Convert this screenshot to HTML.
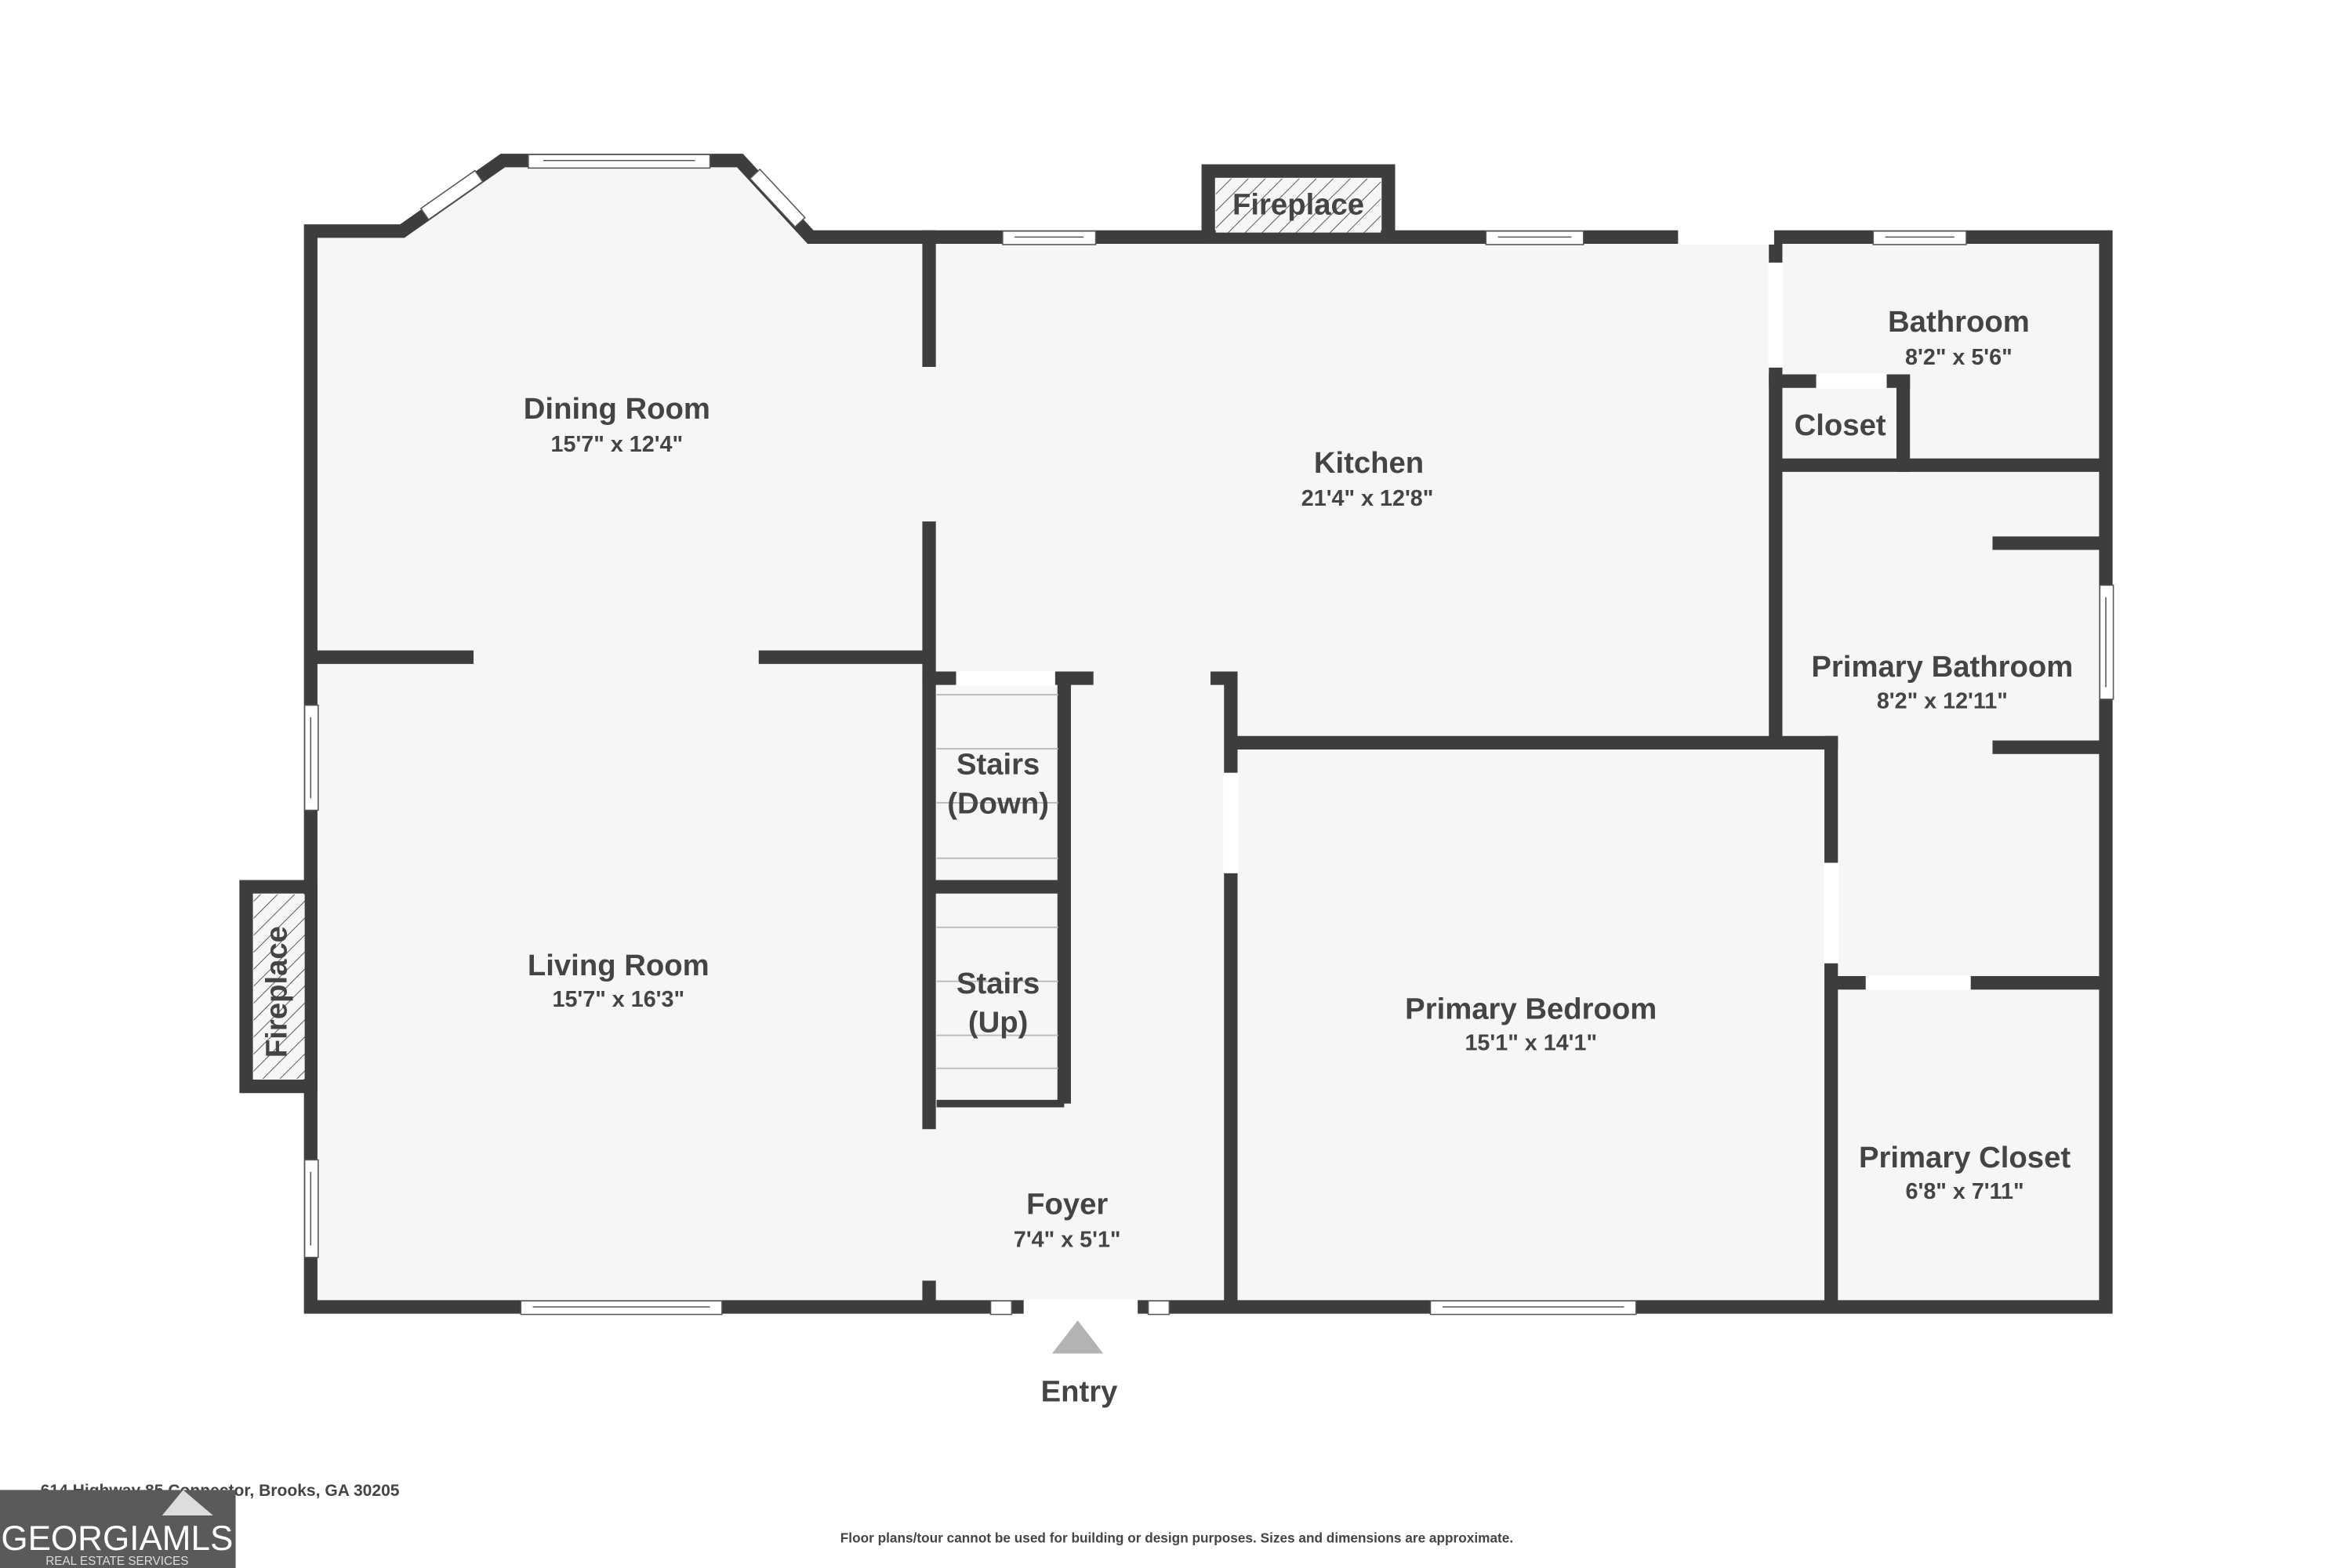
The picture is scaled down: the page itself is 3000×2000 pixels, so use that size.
<!DOCTYPE html>
<html><head><meta charset="utf-8"><style>
html,body{margin:0;padding:0;background:#fff;width:3000px;height:2000px;overflow:hidden}
svg{display:block}
text{font-family:"Liberation Sans",sans-serif;font-weight:bold;fill:#444;text-anchor:middle}
</style></head><body>
<svg width="3000" height="2000" viewBox="0 0 1567 1045" preserveAspectRatio="none" xmlns="http://www.w3.org/2000/svg">
<defs>
<pattern id="h" width="8" height="8" patternUnits="userSpaceOnUse" patternTransform="rotate(45)">
<rect width="8" height="8" fill="#f6f6f6"/><line x1="0" y1="0" x2="0" y2="8" stroke="#555" stroke-width="1"/>
</pattern>
</defs>
<polygon points="207,154 268,154 335,107 493,107 540,158 1403,158 1403,871 207,871" fill="#f6f6f6"/>
<g stroke="#3d3d3d" stroke-width="9" fill="none" stroke-linecap="square">
<polyline points="207,871 207,154 268,154 335,107 493,107 540,158 1403,158 1403,871 207,871"/>
<line x1="619" y1="158" x2="619" y2="240"/>
<line x1="619" y1="352" x2="619" y2="748"/>
<line x1="619" y1="858" x2="619" y2="866"/>
<line x1="211" y1="438" x2="311" y2="438"/>
<line x1="510" y1="438" x2="615" y2="438"/>
<line x1="619" y1="452" x2="724" y2="452"/>
<line x1="709" y1="452" x2="709" y2="731"/>
<line x1="623" y1="591" x2="705" y2="591"/>
<line x1="811" y1="452" x2="820" y2="452"/>
<line x1="820" y1="452" x2="820" y2="866"/>
<line x1="824" y1="495" x2="1220" y2="495"/>
<line x1="1220" y1="495" x2="1220" y2="866"/>
<line x1="1183" y1="162" x2="1183" y2="495"/>
<line x1="1183" y1="254" x2="1268" y2="254"/>
<line x1="1268" y1="254" x2="1268" y2="310"/>
<line x1="1187" y1="310" x2="1399" y2="310"/>
<line x1="1332" y1="362" x2="1399" y2="362"/>
<line x1="1332" y1="498" x2="1399" y2="498"/>
<line x1="1224" y1="655" x2="1399" y2="655"/>
<rect x="805" y="114" width="120" height="44"/>
<rect x="164" y="591" width="43" height="133"/>
</g>
<rect x="810" y="119" width="110" height="36" fill="url(#h)"/>
<rect x="169" y="596" width="34" height="123" fill="url(#h)"/>
<g fill="#fff" stroke="#555" stroke-width="0.8">
<rect x="352" y="103" width="121" height="9"/><line x1="362" y1="107" x2="463" y2="107"/>
<rect x="668" y="154" width="62" height="9"/><line x1="676" y1="158" x2="722" y2="158"/>
<rect x="990" y="154" width="65" height="9"/><line x1="998" y1="158" x2="1047" y2="158"/>
<rect x="1248" y="154" width="62" height="9"/><line x1="1256" y1="158" x2="1302" y2="158"/>
<rect x="1399" y="390" width="9" height="76"/><line x1="1403" y1="398" x2="1403" y2="458"/>
<rect x="203" y="470" width="9" height="70"/><line x1="207" y1="478" x2="207" y2="532"/>
<rect x="203" y="773" width="9" height="65"/><line x1="207" y1="781" x2="207" y2="830"/>
<rect x="347" y="867" width="134" height="9"/><line x1="355" y1="871" x2="473" y2="871"/>
<rect x="953" y="867" width="137" height="9"/><line x1="961" y1="871" x2="1082" y2="871"/>
<rect x="660" y="867" width="14" height="9"/><rect x="765" y="867" width="14" height="9"/>
</g>
<g fill="#fff">
<rect x="682" y="866" width="76" height="10"/>
<rect x="1118" y="153" width="64" height="10"/>
<rect x="1178" y="175" width="10" height="70"/>
<rect x="1210" y="249" width="47" height="10"/>
<rect x="637" y="447" width="66" height="10"/>
<rect x="815" y="515" width="10" height="67"/>
<rect x="1215" y="575" width="10" height="67"/>
<rect x="1243" y="650" width="70" height="10"/>
</g>
<g transform="translate(301,130) rotate(-35)"><rect x="-22" y="-4.5" width="44" height="9" fill="#fff" stroke="#555" stroke-width="0.8"/></g>
<g transform="translate(518,132) rotate(47)"><rect x="-22" y="-4.5" width="44" height="9" fill="#fff" stroke="#555" stroke-width="0.8"/></g>
<g stroke="#bbb" stroke-width="1">
<line x1="624" y1="463" x2="705" y2="463"/><line x1="624" y1="499" x2="705" y2="499"/>
<line x1="624" y1="535" x2="705" y2="535"/><line x1="624" y1="572" x2="705" y2="572"/>
<line x1="624" y1="618" x2="705" y2="618"/><line x1="624" y1="654" x2="705" y2="654"/>
<line x1="624" y1="690" x2="705" y2="690"/><line x1="624" y1="712" x2="705" y2="712"/>
</g>
<rect x="624" y="733" width="85" height="5" fill="#3d3d3d"/>
<g font-size="20">
<text x="411" y="279">Dining Room</text>
<text x="912" y="315">Kitchen</text>
<text x="1305" y="221">Bathroom</text>
<text x="1226" y="290">Closet</text>
<text x="1294" y="451">Primary Bathroom</text>
<text x="412" y="650">Living Room</text>
<text x="665" y="516">Stairs</text>
<text x="665" y="542">(Down)</text>
<text x="665" y="662">Stairs</text>
<text x="665" y="688">(Up)</text>
<text x="1020" y="679">Primary Bedroom</text>
<text x="1309" y="778">Primary Closet</text>
<text x="711" y="809">Foyer</text>
<text x="719" y="934">Entry</text>
<text x="865" y="143">Fireplace</text>
<text transform="translate(191,661) rotate(-90)">Fireplace</text>
</g>
<g font-size="15">
<text x="411" y="301">15'7" x 12'4"</text>
<text x="911" y="337">21'4" x 12'8"</text>
<text x="1305" y="243">8'2" x 5'6"</text>
<text x="1294" y="472">8'2" x 12'11"</text>
<text x="412" y="671">15'7" x 16'3"</text>
<text x="1020" y="700">15'1" x 14'1"</text>
<text x="1309" y="799">6'8" x 7'11"</text>
<text x="711" y="831">7'4" x 5'1"</text>
</g>
<polygon points="718,880 735,902 701,902" fill="#b3b3b3"/>
<text x="27" y="997" font-size="11" style="text-anchor:start">614 Highway 85 Connector, Brooks, GA 30205</text>
<text x="784" y="1028" font-size="9">Floor plans/tour cannot be used for building or design purposes. Sizes and dimensions are approximate.</text>
<rect x="0" y="993" width="157" height="52" fill="#5a5a5a"/>
<polygon points="108,1010 122,993 142,1010" fill="#ddd"/>
<text x="78" y="1033" font-size="23" style="fill:#fff;font-weight:normal">GEORGIAMLS</text>
<text x="78" y="1043" font-size="8" style="fill:#ddd;font-weight:normal">REAL ESTATE SERVICES</text>
</svg>
</body></html>
